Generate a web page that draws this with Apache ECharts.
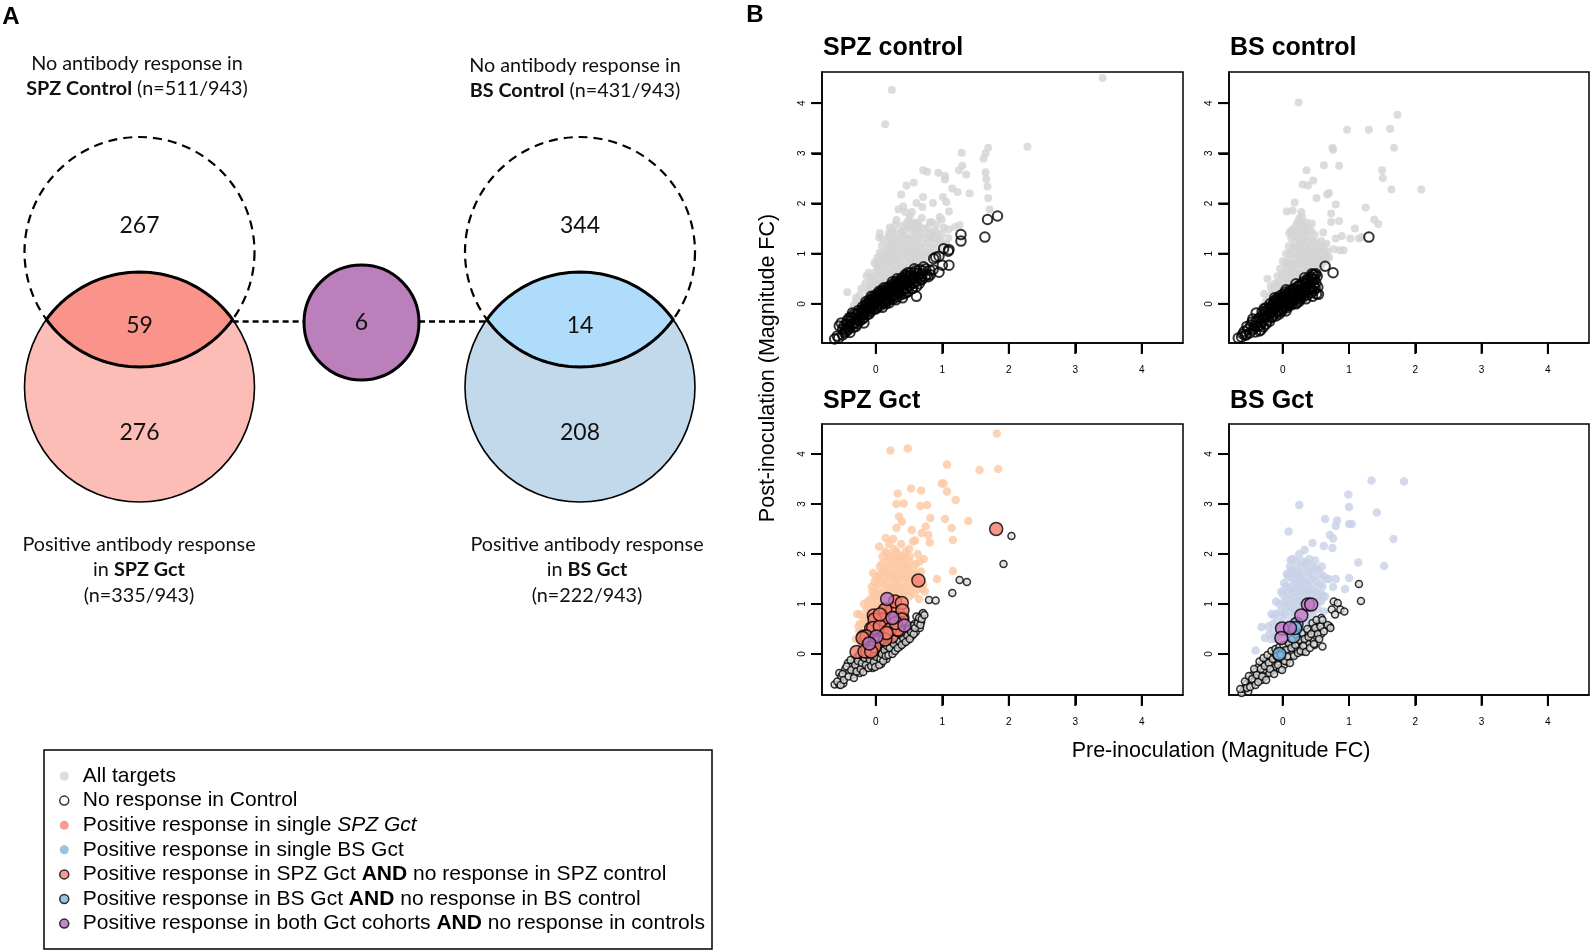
<!DOCTYPE html>
<html><head><meta charset="utf-8">
<script src="https://cdn.jsdelivr.net/npm/echarts@6/dist/echarts.min.js"></script>
<style>html,body{margin:0;padding:0;background:#fff}#c{width:1590px;height:951px}</style>
</head><body><div id="c"></div><script>
// ---------- DATA: Venn (panel A) ----------
const vennGroups = ['SPZ', 'BS'];
const controlOnlyCounts = [267, 344];
const overlapCounts = [59, 14];
const gctOnlyCounts = [276, 208];
const bothCohortsCount = 6;
const controlNoRespTotals = [511, 431];
const gctPosTotals = [335, 222];
const totalTargets = 943;

// ---------- DATA: scatter (panel B) ----------
const axisTickValues = [0, 1, 2, 3, 4];
const panelTitles = ['SPZ control', 'BS control', 'SPZ Gct', 'BS Gct'];
const legendNames = [
  'All targets',
  'No response in Control',
  'Positive response in single SPZ Gct',
  'Positive response in single BS Gct',
  'Positive response in SPZ Gct AND no response in SPZ control',
  'Positive response in BS Gct AND no response in BS control',
  'Positive response in both Gct cohorts AND no response in controls'
];

const spzControlAll = [
[3.41,4.50],[0.24,4.26],[0.14,3.58],[2.28,3.13],[1.29,3.01],[1.69,3.11],[1.65,3.00],[1.62,2.89],[1.65,2.62],[1.66,2.49],[1.68,2.34],[1.69,2.11],[1.71,1.88],[1.30,2.75],[1.25,2.66],[1.36,2.58],[0.71,2.66],[0.77,2.63],[0.94,2.61],[1.04,2.55],[1.04,2.48],[1.15,2.30],[1.23,2.23],[1.41,2.20],[0.46,2.36],[0.57,2.42],[0.38,2.18],[1.01,2.13],[0.86,2.01],[1.06,2.03],[0.71,2.13],[0.61,2.01],[0.41,1.94],[0.34,1.88],[1.10,1.84],[0.70,1.93],[0.54,1.83],[0.96,1.73],[0.99,1.68],[0.84,1.63],[1.26,1.57],[1.19,1.53],[1.09,1.48],[0.29,1.57],[0.46,1.60],[0.06,1.41],[0.61,1.50],[0.96,1.27],[1.06,1.19],
[-0.47,-0.38],[-0.41,-0.22],[-0.43,0.23],[-0.36,-0.12],[-0.33,-0.02],[-0.28,0.06],[-0.24,0.17],[-0.27,-0.08],[-0.14,0.55],[-0.17,0.09],[-0.13,0.27],[-0.19,0.02],[-0.09,0.41],[-0.06,0.19],[-0.04,0.36],[-0.07,0.52],[-0.01,0.63],[0.01,0.77],[0.03,0.27],[0.05,0.43],[0.07,0.56],[0.04,0.71],[0.08,0.87],[0.06,1.02],[0.09,1.16],[0.13,0.33],[0.14,0.47],[0.16,0.61],[0.12,0.76],[0.17,0.92],[0.15,1.07],[0.18,1.21],[0.19,1.34],[0.11,1.28],[0.23,0.42],[0.24,0.57],[0.27,0.71],[0.22,0.86],[0.26,1.01],[0.25,1.16],[0.28,1.31],[0.24,1.46],[0.29,1.23],[0.33,0.51],[0.34,0.66],[0.37,0.81],[0.32,0.96],[0.36,1.11],[0.35,1.27],[0.38,1.41],[0.39,1.55],[0.31,1.67],[0.44,0.61],[0.43,0.76],[0.47,0.91],[0.42,1.06],[0.46,1.21],[0.45,1.36],[0.48,1.51],[0.49,1.66],[0.44,1.83],[0.53,0.71],[0.54,0.86],[0.57,1.01],[0.52,1.16],[0.56,1.31],[0.55,1.46],[0.58,1.61],[0.51,1.74],[0.64,0.81],[0.63,0.96],[0.67,1.11],[0.62,1.26],[0.66,1.41],[0.65,1.56],[0.69,1.71],[0.74,0.92],[0.73,1.06],[0.77,1.21],[0.72,1.36],[0.78,1.51],[0.81,1.62],[0.84,1.03],[0.87,1.19],[0.83,1.33],[0.89,1.46],[0.91,1.58],[0.94,1.12],[0.97,1.26],[0.99,1.39],[1.02,1.52],[1.06,1.17],[1.09,1.31],[0.21,1.52],[0.05,1.32],[0.02,0.92],[-0.02,0.82],[0.10,0.98],[0.20,1.12],[0.30,0.88],[0.40,1.30],[0.50,1.00],[0.60,1.18],[0.70,1.00],[0.80,1.40],[-0.10,0.12],[-0.20,-0.05],
[-0.30,0.12],[-0.22,0.30],[-0.16,0.40],[-0.11,0.62],[-0.08,0.30],[-0.03,0.48],[0.00,0.40],[0.02,0.56],[0.04,0.85],[0.06,0.65],[0.09,0.42],[0.10,0.72],[0.11,0.88],[0.13,0.55],[0.14,1.00],[0.17,0.48],[0.18,0.72],[0.20,0.80],[0.21,0.60],[0.22,1.00],[0.23,1.28],[0.26,0.50],[0.27,0.88],[0.28,0.64],[0.30,1.05],[0.31,0.75],[0.32,1.18],[0.34,0.58],[0.36,0.90],[0.38,0.70],[0.40,1.00],[0.41,0.62],[0.42,1.20],[0.44,0.95],[0.46,0.70],[0.48,1.10],[0.50,0.82],[0.51,1.30],[0.53,0.95],[0.55,1.12],[0.57,0.78],[0.59,1.40],[0.60,0.90],[0.62,1.05],[0.65,1.30],[0.68,0.88],[0.70,1.20],[0.72,1.50],[0.75,1.00],[0.78,1.30],[0.82,1.12],[0.85,1.40],[0.88,1.30],[0.92,1.40],[0.50,1.55],[0.40,1.45],[0.30,1.42],[0.20,1.40],[0.62,1.62],[0.53,1.60]
];
const spzControlNoResp = [
[-0.62,-0.70],[-0.58,-0.64],[-0.56,-0.68],[-0.55,-0.44],[-0.50,-0.50],[-0.47,-0.58],[-0.44,-0.40],[-0.41,-0.46],[-0.39,-0.57],[-0.38,-0.34],[-0.36,-0.42],[-0.33,-0.28],[-0.31,-0.37],[-0.29,-0.22],[-0.27,-0.31],[-0.25,-0.17],[-0.23,-0.26],[-0.21,-0.12],[-0.19,-0.22],[-0.18,-0.38],[-0.17,-0.07],[-0.16,-0.17],[-0.14,-0.03],[-0.12,-0.13],[-0.11,0.01],[-0.09,-0.09],[-0.08,0.05],[-0.06,-0.06],[-0.05,0.08],[-0.03,-0.02],[-0.02,0.11],[0.00,0.02],[0.01,0.14],[0.02,-0.04],[0.03,0.07],[0.05,0.17],[0.06,0.02],[0.07,0.11],[0.09,0.20],[0.10,0.05],[0.11,0.14],[0.13,0.24],[0.14,0.08],[0.15,0.18],[0.17,0.27],[0.18,0.11],[0.19,0.21],[0.21,0.31],[0.22,0.14],[0.23,0.24],[0.25,0.34],[0.26,0.16],[0.27,0.27],[0.29,0.37],[0.30,0.19],[0.31,0.30],[0.33,0.41],[0.34,0.22],[0.35,0.33],[0.37,0.44],[0.38,0.25],[0.39,0.36],[0.41,0.47],[0.42,0.28],[0.43,0.39],[0.45,0.51],[0.46,0.31],[0.47,0.42],[0.49,0.54],[0.50,0.35],[0.52,0.46],[0.53,0.57],[0.55,0.40],[0.57,0.50],[0.59,0.62],[0.61,0.44],[0.61,0.34],[0.61,0.15],[0.63,0.55],[0.66,0.68],[0.68,0.48],[0.69,0.48],[0.70,0.60],[0.72,0.74],[0.74,0.54],[0.79,0.54],[0.81,0.67],[0.82,0.58],[0.86,0.68],[0.95,0.63],[1.00,0.77],[1.10,0.77],[0.90,0.93],[0.95,0.95],[0.87,0.90],[1.02,1.10],[1.09,1.05],[1.10,1.08],[1.28,1.25],[1.28,1.38],[1.64,1.33],[1.68,1.68],[1.83,1.75],[-0.45,-0.55],[-0.40,-0.28],[-0.20,-0.30],[0.10,-0.07],[0.20,0.02],[0.40,0.12],[0.55,0.30],[-0.30,-0.45],[-0.10,-0.20],[0.00,-0.10],[0.15,0.00],[0.30,0.08],[0.45,0.22],[0.65,0.40],[-0.52,-0.38],[-0.35,-0.18],[-0.15,0.04],[0.05,0.25],[0.25,0.44],[0.44,0.58],[0.58,0.70],[-0.07,0.15],[0.12,0.32],[0.32,0.50],[0.48,0.62],
[-0.50,-0.62],[-0.48,-0.44],[-0.46,-0.50],[-0.43,-0.33],[-0.42,-0.52],[-0.39,-0.41],[-0.37,-0.26],[-0.34,-0.47],[-0.32,-0.20],[-0.30,-0.31],[-0.28,-0.40],[-0.26,-0.13],[-0.24,-0.34],[-0.22,-0.20],[-0.20,-0.06],[-0.18,-0.27],[-0.16,-0.11],[-0.15,-0.01],[-0.13,-0.21],[-0.11,-0.07],[-0.10,0.08],[-0.08,-0.15],[-0.06,0.01],[-0.04,0.14],[-0.03,-0.11],[-0.01,0.06],[0.00,0.18],[0.02,-0.07],[0.04,0.10],[0.05,0.22],[0.07,-0.03],[0.08,0.14],[0.10,0.27],[0.12,0.02],[0.13,0.19],[0.15,0.31],[0.16,0.05],[0.18,0.23],[0.20,0.35],[0.21,0.08],[0.23,0.28],[0.25,0.39],[0.26,0.10],[0.28,0.31],[0.30,0.44],[0.32,0.14],[0.33,0.35],[0.35,0.47],[0.37,0.18],[0.38,0.40],[0.40,0.52],[0.42,0.20],[0.44,0.45],[0.46,0.56],[0.48,0.24],[0.50,0.48],[0.52,0.62],[0.54,0.30],[0.56,0.55],[0.58,0.42],[0.60,0.66],[0.64,0.60],[0.67,0.52],[0.71,0.66],[0.75,0.70],[0.77,0.58]
];
const bsControlAll = [
[0.24,4.01],[1.73,3.77],[0.97,3.47],[1.30,3.47],[1.62,3.49],[1.68,3.11],[0.75,3.11],[0.76,3.07],[0.62,2.76],[0.85,2.75],[0.36,2.66],[1.50,2.66],[1.51,2.51],[1.64,2.28],[2.09,2.28],[0.46,2.46],[0.30,2.38],[0.38,2.36],[0.70,2.21],[0.67,2.18],[0.51,2.11],[0.18,2.02],[0.06,1.84],[0.15,1.86],[0.28,1.83],[0.29,1.74],[0.80,1.98],[0.73,1.80],[1.25,1.92],[1.38,1.68],[1.44,1.59],[0.73,1.63],[0.85,1.65],[1.09,1.50],[1.15,1.30],[1.19,1.33],[1.02,1.30],[0.89,1.35],[0.80,1.30],[0.61,1.42],[0.77,1.09],[0.86,1.07],[0.92,1.07],[-0.23,0.50],[-0.34,-0.13],
[-0.40,-0.30],[-0.30,-0.05],[-0.25,0.05],[-0.20,0.15],[-0.16,0.28],[-0.14,0.05],[-0.12,0.40],[-0.10,0.20],[-0.08,0.55],[-0.06,0.32],[-0.04,0.70],[-0.03,0.15],[-0.01,0.45],[0.00,0.85],[0.02,0.60],[0.03,0.30],[0.05,1.00],[0.06,0.75],[0.07,0.45],[0.09,1.15],[0.10,0.90],[0.11,0.60],[0.12,0.35],[0.13,1.30],[0.14,1.05],[0.15,0.75],[0.16,0.50],[0.18,1.20],[0.19,0.92],[0.20,1.45],[0.21,0.65],[0.22,1.10],[0.23,0.40],[0.24,1.30],[0.25,0.82],[0.26,1.00],[0.27,1.55],[0.28,0.60],[0.29,1.20],[0.30,0.90],[0.31,1.40],[0.32,0.70],[0.33,1.05],[0.34,1.50],[0.35,0.80],[0.36,1.25],[0.37,0.55],[0.38,1.00],[0.39,1.35],[0.40,0.72],[0.41,1.15],[0.42,0.90],[0.43,1.45],[0.45,0.80],[0.46,1.05],[0.47,1.25],[0.49,0.70],[0.50,0.95],[0.52,1.20],[0.53,0.80],[0.55,1.00],[0.57,0.72],[0.58,1.25],[0.60,0.90],[0.62,1.05],[0.64,0.85],[0.66,1.20],[0.68,0.95],[0.44,1.60],[0.36,1.62],[0.25,1.70],[0.08,0.20],[0.18,0.30],[0.12,1.45],[0.21,1.58],[0.33,1.35],[0.48,1.38],
[-0.28,0.20],[-0.22,0.00],[-0.18,0.35],[-0.15,0.18],[-0.11,0.10],[-0.07,0.42],[-0.05,0.25],[-0.02,0.58],[0.01,0.35],[0.04,0.50],[0.05,0.82],[0.08,0.68],[0.09,0.40],[0.11,1.00],[0.13,0.55],[0.14,0.80],[0.16,1.12],[0.17,0.65],[0.19,1.35],[0.20,0.78],[0.21,0.50],[0.23,0.95],[0.24,1.15],[0.26,0.60],[0.27,0.78],[0.28,1.05],[0.30,1.25],[0.31,0.55],[0.33,0.85],[0.34,1.15],[0.36,0.65],[0.37,0.95],[0.39,1.10],[0.40,0.60],[0.41,0.85],[0.43,1.00],[0.44,1.25],[0.46,0.70],[0.48,0.90],[0.50,1.10],[0.51,0.62],[0.54,0.88],[0.56,1.10],[0.59,0.80],[0.61,1.15],[0.63,0.95],[0.67,1.05],[0.70,0.92],[0.27,1.42],[0.16,1.50],[0.38,1.50],[0.30,1.60],[0.10,1.40],[0.22,1.62]
];
const bsControlNoResp = [
[-0.67,-0.68],[-0.60,-0.60],[-0.58,-0.55],[-0.52,-0.50],[-0.48,-0.42],[-0.44,-0.50],[-0.40,-0.35],[-0.38,-0.45],[-0.35,-0.28],[-0.35,-0.54],[-0.33,-0.52],[-0.32,-0.38],[-0.30,-0.22],[-0.28,-0.32],[-0.26,-0.15],[-0.25,-0.40],[-0.24,-0.25],[-0.22,-0.10],[-0.20,-0.20],[-0.18,-0.05],[-0.17,-0.15],[-0.15,-0.25],[-0.14,0.00],[-0.12,-0.10],[-0.10,0.04],[-0.10,-0.24],[-0.09,-0.06],[-0.07,-0.16],[-0.06,0.08],[-0.04,-0.02],[-0.02,0.12],[-0.01,-0.10],[0.00,0.03],[0.02,0.15],[0.03,-0.06],[0.04,0.07],[0.05,-0.14],[0.06,0.19],[0.07,-0.02],[0.08,0.10],[0.10,0.22],[0.11,0.02],[0.12,0.14],[0.14,0.26],[0.15,0.05],[0.16,0.17],[0.18,0.30],[0.19,0.09],[0.20,0.21],[0.22,0.34],[0.23,0.12],[0.24,0.25],[0.25,0.05],[0.26,0.38],[0.27,0.16],[0.28,0.28],[0.30,0.42],[0.31,0.20],[0.32,0.32],[0.34,0.46],[0.35,0.23],[0.36,0.35],[0.38,0.50],[0.39,0.27],[0.40,0.40],[0.42,0.54],[0.43,0.30],[0.44,0.44],[0.45,0.15],[0.46,0.58],[0.47,0.35],[0.48,0.48],[0.49,0.31],[0.50,0.60],[0.54,0.19],[0.64,0.75],[0.76,0.62],[1.30,1.33],[-0.40,-0.18],[-0.55,-0.62],[-0.45,-0.30],[-0.20,-0.35],[-0.05,-0.20],[0.10,-0.04],[0.20,0.00],[0.35,0.10],[-0.28,-0.10],[-0.12,0.12],[0.05,0.28],[0.20,0.40],[0.33,0.52],
[-0.62,-0.66],[-0.57,-0.62],[-0.54,-0.45],[-0.50,-0.58],[-0.46,-0.36],[-0.42,-0.44],[-0.41,-0.56],[-0.37,-0.30],[-0.34,-0.43],[-0.31,-0.16],[-0.29,-0.46],[-0.27,-0.26],[-0.25,-0.08],[-0.23,-0.33],[-0.21,-0.16],[-0.19,0.00],[-0.17,-0.27],[-0.16,-0.09],[-0.13,0.06],[-0.11,-0.18],[-0.09,0.10],[-0.08,-0.02],[-0.06,-0.12],[-0.05,0.15],[-0.03,0.04],[-0.02,-0.15],[0.00,0.19],[0.01,-0.04],[0.03,0.10],[0.04,0.23],[0.06,-0.08],[0.08,0.16],[0.09,0.02],[0.11,0.27],[0.13,0.07],[0.14,-0.01],[0.16,0.30],[0.17,0.12],[0.19,0.24],[0.21,0.02],[0.22,0.16],[0.24,0.35],[0.26,0.09],[0.27,0.22],[0.29,0.36],[0.31,0.14],[0.33,0.27],[0.35,0.41],[0.37,0.18],[0.39,0.45],[0.41,0.32],[0.43,0.22],[0.45,0.50],[0.47,0.26],[0.50,0.42],[0.52,0.55],[0.48,0.58],[0.44,0.60],[0.51,0.20],[0.53,0.33]
];
const spzGctSingle = [
[1.82,4.41],[0.22,4.07],[0.48,4.11],[1.07,3.79],[1.56,3.68],[1.84,3.70],[0.99,3.41],[1.02,3.41],[1.07,3.25],[1.20,3.08],[0.53,3.31],[0.68,3.27],[0.33,3.21],[0.31,3.00],[0.42,3.01],[0.35,2.75],[0.39,2.65],[0.67,2.96],[0.77,2.98],[0.82,2.72],[1.04,2.70],[1.39,2.66],[1.14,2.52],[0.75,2.55],[0.31,2.52],[0.69,2.42],[0.54,2.48],[0.79,2.38],[1.16,2.28],[0.81,2.23],[0.59,2.27],[0.15,2.32],[0.05,2.15],[1.16,1.66],[0.92,1.50],[0.71,1.40],[0.74,1.25],[-0.04,1.62],[-0.24,0.79],[-0.24,0.60],[0.69,0.79],
[-0.30,0.30],[-0.25,0.45],[-0.20,0.60],[-0.22,0.20],[-0.15,0.75],[-0.12,0.50],[-0.10,0.95],[-0.08,1.10],[-0.06,0.70],[-0.05,1.25],[-0.02,1.45],[0.00,0.90],[0.02,1.05],[0.03,1.30],[0.05,1.55],[0.06,1.75],[0.08,0.80],[0.10,1.20],[0.10,1.95],[0.12,1.40],[0.13,1.65],[0.14,2.05],[0.15,1.00],[0.16,1.85],[0.18,1.30],[0.19,1.55],[0.20,2.20],[0.21,1.10],[0.22,1.75],[0.24,1.95],[0.25,1.40],[0.26,1.20],[0.27,2.10],[0.28,1.60],[0.30,1.85],[0.31,1.30],[0.32,2.00],[0.33,1.50],[0.35,1.70],[0.36,1.15],[0.37,1.90],[0.38,2.20],[0.40,1.40],[0.41,1.60],[0.43,1.80],[0.44,1.25],[0.45,2.05],[0.47,1.50],[0.48,1.70],[0.50,1.15],[0.51,1.95],[0.53,1.35],[0.55,1.60],[0.56,2.25],[0.58,1.20],[0.60,1.80],[0.62,1.45],[0.63,2.00],[0.65,1.10],[0.68,1.65],[0.70,1.30],[0.72,1.90],[0.12,0.60],[0.05,0.40],[0.25,0.85],[0.35,0.95],[0.45,0.90],[-0.18,1.00],[-0.28,0.80],[0.08,1.62],[0.23,1.52],[0.40,1.95],[0.18,1.05],[-0.02,1.20],[0.29,1.08],
[-0.26,0.55],[-0.22,0.40],[-0.18,0.70],[-0.16,0.30],[-0.14,0.90],[-0.12,1.05],[-0.10,0.62],[-0.08,0.85],[-0.06,1.35],[-0.04,1.00],[-0.03,0.60],[-0.01,1.15],[0.01,1.40],[0.03,0.75],[0.04,1.20],[0.06,0.95],[0.07,1.45],[0.09,1.10],[0.11,1.55],[0.11,0.75],[0.13,1.25],[0.15,1.70],[0.16,1.40],[0.17,0.95],[0.19,1.15],[0.20,1.65],[0.21,1.90],[0.23,1.30],[0.24,1.05],[0.26,1.55],[0.27,1.80],[0.28,1.25],[0.30,1.45],[0.31,2.05],[0.32,1.70],[0.34,1.35],[0.35,1.90],[0.36,1.55],[0.38,1.30],[0.39,1.75],[0.41,1.20],[0.42,1.95],[0.44,1.55],[0.46,1.75],[0.47,1.35],[0.49,1.60],[0.50,1.85],[0.52,1.25],[0.54,1.50],[0.57,1.75],[0.59,1.40],[0.61,1.60],[0.64,1.30],[0.66,1.85],[0.50,2.10],[0.18,2.00],[0.26,2.30],[0.09,1.80],[0.00,1.55]
];
const spzGctNoResp = [
[-0.62,-0.61],[-0.55,-0.61],[-0.49,-0.59],[-0.55,-0.38],[-0.52,-0.45],[-0.46,-0.30],[-0.42,-0.18],[-0.40,-0.35],[-0.36,-0.25],[-0.34,-0.41],[-0.32,-0.15],[-0.30,-0.30],[-0.28,-0.06],[-0.26,-0.22],[-0.24,-0.38],[-0.22,-0.10],[-0.20,-0.25],[-0.18,0.00],[-0.16,-0.15],[-0.14,-0.28],[-0.12,-0.05],[-0.10,-0.18],[-0.08,0.05],[-0.06,-0.10],[-0.04,-0.20],[-0.02,0.02],[0.00,-0.12],[0.02,0.10],[0.04,-0.05],[0.06,-0.15],[0.08,0.06],[0.10,-0.08],[0.12,0.15],[0.14,0.00],[0.16,-0.10],[0.18,0.10],[0.20,0.03],[0.22,0.20],[0.24,0.06],[0.26,0.14],[0.28,0.28],[0.30,0.10],[0.32,0.22],[0.34,0.34],[0.36,0.15],[0.38,0.28],[0.40,0.40],[0.42,0.22],[0.44,0.33],[0.46,0.46],[0.48,0.28],[0.50,0.40],[0.52,0.52],[0.54,0.36],[0.56,0.48],[0.58,0.60],[0.60,0.44],[0.62,0.56],[0.64,0.68],[0.66,0.52],[0.68,0.64],[0.70,0.80],[0.61,0.75],[0.71,0.82],[0.80,1.08],[0.90,1.07],[1.15,1.22],[1.26,1.48],[1.37,1.44],[1.92,1.80],[2.04,2.36],[0.43,0.27],[0.33,0.18],[0.08,-0.20],[-0.05,-0.28],
[-0.58,-0.55],[-0.53,-0.62],[-0.50,-0.40],[-0.48,-0.52],[-0.44,-0.25],[-0.41,-0.45],[-0.38,-0.12],[-0.37,-0.32],[-0.33,-0.48],[-0.31,-0.22],[-0.29,-0.35],[-0.27,-0.14],[-0.25,-0.02],[-0.23,-0.30],[-0.21,-0.18],[-0.19,-0.36],[-0.17,-0.08],[-0.15,-0.22],[-0.13,0.04],[-0.11,-0.28],[-0.09,-0.12],[-0.07,-0.24],[-0.05,-0.04],[-0.03,-0.16],[-0.01,-0.26],[0.01,-0.06],[0.03,0.04],[0.05,-0.22],[0.07,-0.10],[0.09,0.00],[0.11,-0.14],[0.13,0.08],[0.15,-0.04],[0.17,0.16],[0.19,-0.02],[0.21,0.12],[0.23,0.26],[0.25,0.00],[0.27,0.20],[0.29,0.06],[0.31,0.30],[0.33,0.12],[0.35,0.26],[0.37,0.38],[0.39,0.18],[0.41,0.32],[0.43,0.46],[0.45,0.24],[0.47,0.38],[0.49,0.50],[0.51,0.30],[0.53,0.44],[0.55,0.56],[0.57,0.40],[0.59,0.52],[0.63,0.62],[0.65,0.72],[0.67,0.58],[0.69,0.70],[0.73,0.78]
];
const spzGctPos = [
[1.81,2.50],[0.64,1.47],[-0.29,0.04],[-0.13,0.05],[-0.18,0.35],[-0.04,0.42],[-0.03,0.77],[0.04,0.54],[0.07,0.29],[-0.07,0.51],[0.09,0.51],[0.15,0.87],[0.25,0.90],[0.29,1.05],[0.39,1.02],[0.16,0.65],[0.29,0.72],[0.40,0.72],[0.24,0.50],[0.24,0.35],[0.35,0.47],[0.14,0.39],[0.02,0.23],[-0.04,0.09],[0.36,0.62],
[0.14,0.89],[0.40,0.87],[0.39,0.69],[0.11,0.69],[-0.02,0.69],[-0.04,0.52],[0.06,0.55],[0.21,0.49],[0.33,0.49],[-0.14,0.35],[0.14,0.29],[-0.02,0.15],[-0.17,0.05],[-0.07,0.05],[-0.20,0.32],[0.06,0.79],[0.30,0.62],[0.16,0.42]
];
const spzGctBoth = [
[0.17,1.10],[0.25,0.72],[0.43,0.57],[0.01,0.35],[-0.10,0.21]
];
const bsGctSingle = [
[1.34,3.47],[1.83,3.45],[0.99,3.19],[0.25,2.98],[1.00,2.94],[1.42,2.83],[0.64,2.70],[0.82,2.67],[0.80,2.56],[1.00,2.60],[1.04,2.60],[0.09,2.45],[0.71,2.38],[0.76,2.31],[1.67,2.30],[0.45,2.22],[0.62,2.16],[0.75,2.12],[0.33,2.08],[1.14,1.83],[1.53,1.76],[0.49,1.87],[0.59,1.75],[0.12,1.88],[0.36,1.82],[1.00,1.52],[0.70,1.50],[0.80,1.50],[0.94,1.30],[0.76,1.34],[-0.32,0.54],[-0.27,0.32],[-0.41,0.07],[-0.13,0.77],[0.61,1.15],
[-0.20,0.40],[-0.15,0.60],[-0.10,0.80],[-0.12,0.30],[-0.05,1.00],[-0.04,0.55],[0.00,1.20],[0.01,0.75],[0.02,1.42],[0.04,0.95],[0.06,1.60],[0.07,1.10],[0.08,0.60],[0.10,1.30],[0.11,1.75],[0.12,0.85],[0.14,1.50],[0.15,1.05],[0.16,1.65],[0.18,1.25],[0.19,0.80],[0.20,1.85],[0.21,1.40],[0.22,1.00],[0.24,1.60],[0.25,1.15],[0.26,0.70],[0.27,1.35],[0.28,1.75],[0.30,0.95],[0.31,1.50],[0.32,1.20],[0.34,1.80],[0.35,1.05],[0.36,1.40],[0.38,0.65],[0.39,1.62],[0.40,1.25],[0.42,1.00],[0.43,1.50],[0.45,0.80],[0.46,1.30],[0.48,1.70],[0.49,1.10],[0.51,1.45],[0.53,0.90],[0.55,1.20],[0.57,1.60],[0.58,1.05],[0.60,1.35],[0.62,0.85],[0.64,1.15],[0.66,1.50],[0.50,0.55],[0.35,0.45],[0.20,0.50],[0.03,0.40],
[-0.22,0.55],[-0.17,0.80],[-0.14,0.45],[-0.10,1.05],[-0.08,0.65],[-0.06,0.40],[-0.03,0.85],[-0.02,1.25],[0.00,0.60],[0.02,1.05],[0.03,0.80],[0.05,1.35],[0.06,0.50],[0.08,1.55],[0.09,0.95],[0.10,1.20],[0.12,1.65],[0.13,0.70],[0.14,1.35],[0.16,0.90],[0.17,1.10],[0.18,1.50],[0.20,1.70],[0.20,0.65],[0.22,1.25],[0.23,0.85],[0.24,1.45],[0.26,1.05],[0.27,1.60],[0.28,0.80],[0.29,1.30],[0.30,1.85],[0.32,0.95],[0.33,1.45],[0.35,1.25],[0.36,0.75],[0.37,1.65],[0.38,1.10],[0.40,1.40],[0.41,0.85],[0.43,1.20],[0.44,1.75],[0.46,1.00],[0.47,1.55],[0.50,1.25],[0.52,1.70],[0.54,1.05],[0.56,1.40],[0.59,1.20],[0.62,1.55],[0.15,1.90],[0.25,2.00],[0.40,1.90],[-0.18,0.30]
];
const bsGctNoResp = [
[-0.68,-0.86],[-0.62,-0.78],[-0.58,-0.70],[-0.55,-0.60],[-0.52,-0.75],[-0.50,-0.52],[-0.47,-0.62],[-0.45,-0.42],[-0.42,-0.55],[-0.40,-0.35],[-0.38,-0.48],[-0.36,-0.25],[-0.34,-0.40],[-0.32,-0.52],[-0.30,-0.18],[-0.28,-0.32],[-0.26,-0.45],[-0.24,-0.12],[-0.22,-0.26],[-0.20,-0.38],[-0.18,-0.05],[-0.16,-0.20],[-0.14,-0.32],[-0.12,-0.10],[-0.10,-0.25],[-0.08,0.05],[-0.06,-0.15],[-0.04,-0.30],[-0.02,0.08],[0.00,-0.10],[0.02,-0.22],[0.04,0.02],[0.06,-0.15],[0.08,0.10],[0.10,-0.05],[0.12,0.05],[0.14,0.18],[0.16,0.00],[0.18,0.12],[0.20,0.26],[0.22,0.08],[0.24,0.20],[0.26,0.34],[0.28,0.12],[0.30,0.25],[0.32,0.40],[0.34,0.18],[0.36,0.30],[0.38,0.45],[0.40,0.22],[0.42,0.36],[0.44,0.50],[0.46,0.28],[0.48,0.42],[0.50,0.56],[0.52,0.34],[0.54,0.48],[0.56,0.62],[0.58,0.72],[0.60,0.15],[0.71,0.55],[0.74,0.89],[0.77,1.05],[0.79,0.79],[0.83,1.02],[0.87,0.89],[0.93,0.85],[1.15,1.40],[1.18,1.06],[0.58,0.40],[0.48,0.18],[0.30,0.05],
[-0.64,-0.70],[-0.60,-0.85],[-0.57,-0.55],[-0.54,-0.68],[-0.51,-0.44],[-0.49,-0.66],[-0.46,-0.50],[-0.43,-0.30],[-0.41,-0.62],[-0.39,-0.42],[-0.37,-0.56],[-0.35,-0.15],[-0.33,-0.30],[-0.31,-0.45],[-0.29,-0.08],[-0.27,-0.24],[-0.25,-0.52],[-0.23,-0.02],[-0.21,-0.18],[-0.19,-0.30],[-0.17,0.06],[-0.15,-0.10],[-0.13,-0.40],[-0.11,0.10],[-0.09,-0.05],[-0.07,-0.22],[-0.05,0.14],[-0.03,-0.02],[-0.01,-0.32],[0.01,0.18],[0.03,-0.14],[0.05,0.08],[0.07,-0.05],[0.09,0.22],[0.11,-0.18],[0.13,0.12],[0.15,0.30],[0.17,-0.04],[0.19,0.18],[0.21,0.38],[0.23,0.02],[0.25,0.28],[0.27,0.06],[0.29,0.42],[0.31,0.16],[0.33,0.30],[0.35,0.04],[0.37,0.50],[0.39,0.34],[0.41,0.12],[0.43,0.40],[0.45,0.62],[0.47,0.20],[0.49,0.52],[0.51,0.68],[0.53,0.40],[0.55,0.30],[0.57,0.55],[0.60,0.68],[0.62,0.45],[0.68,0.58],[0.72,0.52]
];
const bsGctPos = [
[-0.05,0.00],[0.16,0.35],[0.21,0.60],[0.19,0.52]
];
const bsGctBoth = [
[0.38,0.99],[0.43,0.99],[0.28,0.77],[-0.01,0.51],[0.11,0.52],[-0.02,0.32]
];

// ---------- LAYOUT / STYLE ----------
const FONT = '"Liberation Sans", Arial, sans-serif';
const VFONT = 'Lato, "Open Sans", sans-serif';
const X_MIN = -0.81, X_MAX = 4.62;
const gridBoxes = [
  {left: 822, top: 72, width: 361, height: 271, ymin: -0.78, ymax: 4.62},
  {left: 1229, top: 72, width: 360, height: 271, ymin: -0.78, ymax: 4.62},
  {left: 822, top: 424, width: 361, height: 271, ymin: -0.82, ymax: 4.60},
  {left: 1229, top: 424, width: 360, height: 271, ymin: -0.82, ymax: 4.60}
];
const grids = gridBoxes.map(g => ({left: g.left, top: g.top, width: g.width, height: g.height,
  show: true, borderColor: '#000', borderWidth: 1.5, backgroundColor: 'transparent'}));
const axisLineOpt = {show: true, onZero: false, lineStyle: {color: '#000', width: 1.5}};
const tickOpt = {show: true, inside: false, customValues: axisTickValues, length: 10, lineStyle: {color: '#000', width: 2}};
const xAxes = gridBoxes.map((g, i) => ({
  gridIndex: i, type: 'value', min: X_MIN, max: X_MAX, position: 'bottom',
  axisLine: axisLineOpt, splitLine: {show: false}, axisTick: tickOpt,
  axisLabel: {customValues: axisTickValues, fontSize: 10, color: '#000', margin: 22, fontFamily: FONT}
}));
const yAxes = gridBoxes.map((g, i) => ({
  gridIndex: i, type: 'value', min: g.ymin, max: g.ymax, position: 'left',
  axisLine: axisLineOpt, splitLine: {show: false}, axisTick: tickOpt,
  axisLabel: {customValues: axisTickValues, fontSize: 10, color: '#000', margin: 15, rotate: 90, fontFamily: FONT}
}));

const openCircle = (w, fill) => ({color: fill, borderColor: '#000', borderWidth: w});
function sc(name, data, idx, size, itemStyle, z) {
  return {type: 'scatter', name, data, xAxisIndex: idx, yAxisIndex: idx, symbol: 'circle',
    symbolSize: size, itemStyle, z, silent: true, emphasis: {disabled: true}};
}
const series = [
  sc(legendNames[0], spzControlAll, 0, 8, {color: '#d3d3d3'}, 2),
  sc(legendNames[1], spzControlNoResp, 0, 9.5, openCircle(2, 'rgba(0,0,0,0)'), 3),
  sc(legendNames[0], bsControlAll, 1, 8, {color: '#d3d3d3'}, 2),
  sc(legendNames[1], bsControlNoResp, 1, 9.5, openCircle(2, 'rgba(0,0,0,0)'), 3),
  sc(legendNames[2], spzGctSingle, 2, 8.5, {color: '#fdc8a4'}, 2),
  sc(legendNames[1], spzGctNoResp, 2, 7, openCircle(1.5, '#dcdcdc'), 3),
  sc(legendNames[4], spzGctPos, 2, 13, {color: '#f47c6c', borderColor: '#000', borderWidth: 1.5}, 4),
  sc(legendNames[6], spzGctBoth, 2, 13, {color: '#b874bf', borderColor: '#000', borderWidth: 1.5}, 5),
  sc(legendNames[3], bsGctSingle, 3, 8.5, {color: '#c8d1e7'}, 2),
  sc(legendNames[1], bsGctNoResp, 3, 7, openCircle(1.5, '#dcdcdc'), 3),
  sc(legendNames[5], bsGctPos, 3, 13, {color: '#74b3de', borderColor: '#000', borderWidth: 1.5}, 4),
  sc(legendNames[6], bsGctBoth, 3, 13, {color: '#c079c6', borderColor: '#000', borderWidth: 1.5}, 5)
];

const legendStyles = [
  {color: '#d3d3d3', borderWidth: 0},
  {color: '#fff', borderColor: '#000', borderWidth: 1.5},
  {color: '#f4837a', borderWidth: 0},
  {color: '#80b4dc', borderWidth: 0},
  {color: '#f4837a', borderColor: '#000', borderWidth: 1.5},
  {color: '#80b4dc', borderColor: '#000', borderWidth: 1.5},
  {color: '#b06cbc', borderColor: '#000', borderWidth: 1.5}
];
function legendFormat(name) {
  if (name === legendNames[2]) return 'Positive response in single {i|SPZ Gct}';
  return name.replace(' AND ', ' {b|AND} ');
}

// ---------- Venn graphics ----------
const vennCx = [139.5, 580];
const vennCyTop = 252, vennCyBot = 387, vennR = 115;
const gctFill = ['#fcbdb7', '#c2d9ec'];
const lensFill = ['#fa938a', '#afdcfa'];
function arcPoints(cx, cy, r, a0, a1, n) {
  const pts = [];
  for (let k = 0; k <= n; k++) {
    const a = a0 + (a1 - a0) * k / n;
    pts.push([cx + r * Math.cos(a), cy + r * Math.sin(a)]);
  }
  return pts;
}
const VT = 19.8;
const vennEls = [];
const halfD = (vennCyBot - vennCyTop) / 2;
const hL = Math.sqrt(vennR * vennR - halfD * halfD);
const lensAng = Math.atan2(hL, halfD);
vennGroups.forEach((g, s) => {
  const cx = vennCx[s];
  vennEls.push({type: 'circle', shape: {cx, cy: vennCyBot, r: vennR}, style: {fill: gctFill[s], stroke: '#000', lineWidth: 1.6}});
  vennEls.push({type: 'circle', shape: {cx, cy: vennCyTop, r: vennR}, style: {fill: 'none', stroke: '#000', lineWidth: 2.2, lineDash: [9, 6]}});
  const up = arcPoints(cx, vennCyBot, vennR, -Math.PI / 2 - lensAng, -Math.PI / 2 + lensAng, 40);
  const dn = arcPoints(cx, vennCyTop, vennR, Math.PI / 2 - lensAng, Math.PI / 2 + lensAng, 40);
  vennEls.push({type: 'polygon', shape: {points: up.concat(dn)}, style: {fill: lensFill[s], stroke: '#000', lineWidth: 3, lineJoin: 'round'}});
  const num = (t, y) => ({type: 'text', x: cx, y, style: {text: String(t), font: '23px ' + VFONT, fill: '#111', align: 'center', verticalAlign: 'middle'}});
  vennEls.push(num(controlOnlyCounts[s], 226));
  vennEls.push(num(overlapCounts[s], 326));
  vennEls.push(num(gctOnlyCounts[s], 433));
  const rich = {b: {fontWeight: 'bold', fontSize: VT, fontFamily: VFONT, fill: '#111'}, n: {fontSize: VT, fontFamily: VFONT, fill: '#111'}};
  const topX = [137, 575][s], botX = [139, 587][s];
  const ctY = [64, 66][s];
  vennEls.push({type: 'text', x: topX, y: ctY, style: {text: 'No antibody response in', font: VT + 'px ' + VFONT, fill: '#111', align: 'center', verticalAlign: 'middle'}});
  vennEls.push({type: 'text', x: topX, y: ctY + 24.5, style: {text: `{b|${g} Control} {n|(n=${controlNoRespTotals[s]}/${totalTargets})}`, rich, font: VT + 'px ' + VFONT, align: 'center', verticalAlign: 'middle'}});
  vennEls.push({type: 'text', x: botX, y: 545, style: {text: 'Positive antibody response', font: VT + 'px ' + VFONT, fill: '#111', align: 'center', verticalAlign: 'middle'}});
  vennEls.push({type: 'text', x: botX, y: 570, style: {text: `{n|in} {b|${g} Gct}`, rich, font: VT + 'px ' + VFONT, align: 'center', verticalAlign: 'middle'}});
  vennEls.push({type: 'text', x: botX, y: 595.5, style: {text: `(n=${gctPosTotals[s]}/${totalTargets})`, font: VT + 'px ' + VFONT, fill: '#111', align: 'center', verticalAlign: 'middle'}});
});
const midY = (vennCyTop + vennCyBot) / 2 + 2;
const purple = {cx: 361.5, cy: 322.5, r: 57.5};
vennEls.push({type: 'line', shape: {x1: vennCx[0] + hL, y1: midY, x2: purple.cx - purple.r, y2: midY}, style: {stroke: '#000', lineWidth: 2.5, lineDash: [6, 4]}});
vennEls.push({type: 'line', shape: {x1: purple.cx + purple.r, y1: midY, x2: vennCx[1] - hL, y2: midY}, style: {stroke: '#000', lineWidth: 2.5, lineDash: [6, 4]}});
vennEls.push({type: 'circle', shape: purple, style: {fill: '#bb7fbc', stroke: '#000', lineWidth: 3}});
vennEls.push({type: 'text', x: purple.cx, y: 323, style: {text: String(bothCohortsCount), font: '23px ' + VFONT, fill: '#111', align: 'center', verticalAlign: 'middle'}});

// panel labels, titles, axis names, legend box
const titlePos = [[823, 48], [1230, 48], [823, 401], [1230, 401]];
const otherEls = [
  {type: 'text', x: 11, y: 17, style: {text: 'A', font: 'bold 24px ' + FONT, fill: '#000', align: 'center', verticalAlign: 'middle'}},
  {type: 'text', x: 755, y: 15, style: {text: 'B', font: 'bold 24px ' + FONT, fill: '#000', align: 'center', verticalAlign: 'middle'}},
  {type: 'text', x: 768, y: 368, rotation: Math.PI / 2, style: {text: 'Post-inoculation (Magnitude FC)', font: '21.5px ' + FONT, fill: '#000', align: 'center', verticalAlign: 'middle'}},
  {type: 'text', x: 1221, y: 751, style: {text: 'Pre-inoculation (Magnitude FC)', font: '21.5px ' + FONT, fill: '#000', align: 'center', verticalAlign: 'middle'}},
  {type: 'rect', shape: {x: 44, y: 750, width: 668, height: 199}, style: {fill: 'none', stroke: '#000', lineWidth: 1.5}}
];
panelTitles.forEach((t, i) => otherEls.push({type: 'text', x: titlePos[i][0], y: titlePos[i][1],
  style: {text: t, font: 'bold 25px ' + FONT, fill: '#000', align: 'left', verticalAlign: 'middle'}}));

// R-style outward tick marks: each tick value mapped with the same linear scale as its grid's axes
gridBoxes.forEach(g => {
  axisTickValues.forEach(v => {
    const px = g.left + (v - X_MIN) / (X_MAX - X_MIN) * g.width;
    const py = g.top + g.height - (v - g.ymin) / (g.ymax - g.ymin) * g.height;
    const by = g.top + g.height, lx = g.left;
    otherEls.push({type: 'rect', z: 100, shape: {x: px - 1, y: by, width: 2, height: 11}, style: {fill: '#000'}});
    otherEls.push({type: 'rect', z: 100, shape: {x: lx - 11, y: py - 1, width: 11, height: 2}, style: {fill: '#000'}});
  });
});

const chart = echarts.init(document.getElementById('c'), null, {renderer: 'canvas'});
chart.setOption({
  animation: false,
  backgroundColor: '#fff',
  grid: grids,
  xAxis: xAxes,
  yAxis: yAxes,
  legend: {
    orient: 'vertical', left: 59, top: 765, itemWidth: 27, itemHeight: 9, itemGap: 2.6,
    selectedMode: false, padding: 0,
    data: legendNames.map((n, i) => ({name: n, icon: 'circle', itemStyle: legendStyles[i]})),
    formatter: legendFormat,
    textStyle: {fontSize: 21, fontFamily: FONT, color: '#000', lineHeight: 22,
      rich: {b: {fontWeight: 'bold', fontSize: 21, fontFamily: FONT, lineHeight: 22},
             i: {fontStyle: 'italic', fontSize: 21, fontFamily: FONT, lineHeight: 22}}}
  },
  graphic: {elements: vennEls.concat(otherEls)},
  series
});
</script></body></html>
